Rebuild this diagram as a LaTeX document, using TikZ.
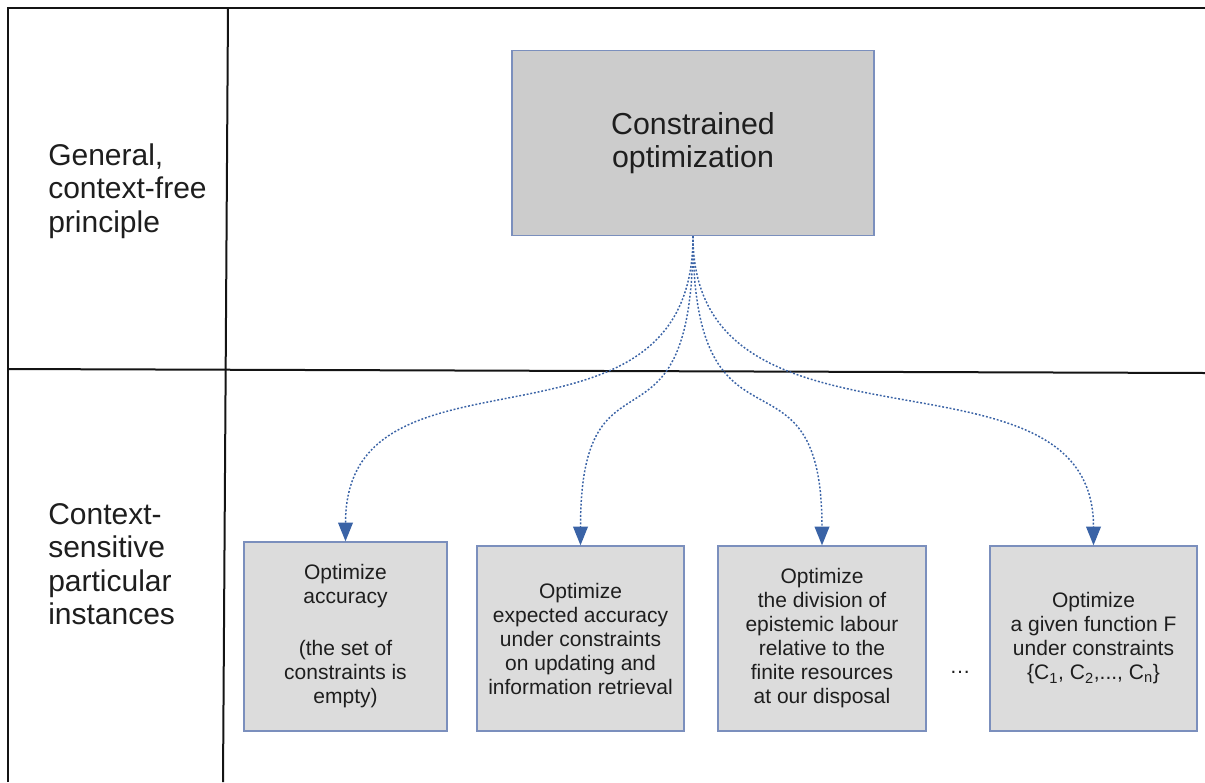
\documentclass[tikz,border=0pt]{standalone}
\usepackage{fontspec}
\setmainfont{Liberation Sans}
\usetikzlibrary{arrows.meta,calc}
\definecolor{ink}{HTML}{1E1E1E}
\definecolor{boxline}{HTML}{7B8FBD}
\definecolor{topfill}{HTML}{CCCCCC}
\definecolor{subfill}{HTML}{DCDCDC}
\definecolor{connblue}{HTML}{3A63A6}
\begin{document}
\begin{tikzpicture}[x=0.75pt,y=-0.75pt,
  gridline/.style={line width=1.5pt, draw=black!92},
  lbl/.style={inner sep=0pt, anchor=west, align=left, text=ink,
    font=\fontsize{22.5pt}{25pt}\selectfont},
  topbox/.style={draw=boxline, fill=topfill, line width=1pt, inner sep=0pt,
    minimum width=271.5pt, minimum height=138.75pt, align=center, text=ink,
    font=\fontsize{22.75pt}{24.75pt}\selectfont},
  subbox/.style={draw=boxline, fill=subfill, line width=1pt, inner sep=0pt,
    minimum width=155.25pt, minimum height=138.75pt, align=center, text=ink,
    font=\fontsize{15.75pt}{18pt}\selectfont},
  conn/.style={draw=connblue, line width=1.1pt, dash pattern=on 1.4pt off 1.4pt,
    -{Triangle[length=14pt,width=11pt,fill=connblue]}},
  dotsnode/.style={inner sep=0pt, text=ink, font=\fontsize{15.75pt}{18pt}\selectfont}
]
\useasboundingbox (0,0) rectangle (1205,782);

% grid
\draw[gridline] (8,782) -- (8,7.5) -- (1205,7.5);
\draw[gridline] (228,7.5) -- (223,782);
\draw[gridline] (8,369) -- (1205,373);

% row labels
\node[lbl] (gen) at (48,191) {General,\\context-free\\principle};
\node[lbl] (ctx) at (48,564) {Context-\\sensitive\\particular\\instances};

% top box
\node[topbox] (top) at (693,143) {Constrained\\optimization};

% bottom boxes
\node[subbox, minimum width=152.25pt, minimum height=141.75pt] (b1) at (345.5,636.5)
  {Optimize\\accuracy\\[21pt](the set of\\constraints is\\empty)};
\node[subbox] (b2) at (580.5,638.5)
  {Optimize\\expected accuracy\\under constraints\\on updating and\\information retrieval};
\node[subbox, minimum width=156pt] (b3) at (822,638.5)
  {Optimize\\the division of\\epistemic labour\\relative to the\\finite resources\\at our disposal};
\node[subbox] (b4) at (1093.5,638.5)
  {Optimize\\a given function F\\under constraints\\\{C\textsubscript{1}, C\textsubscript{2},..., C\textsubscript{n}\}};

\node[dotsnode] (ell) at (960,672) {…};

% connectors
\foreach \b in {b1,b2,b3,b4}{
  \draw[conn] (top.south) .. controls ($(top.south)+(0,240)$) and ($(\b.north)+(0,-215)$) .. (\b.north);
}
\end{tikzpicture}
\end{document}
